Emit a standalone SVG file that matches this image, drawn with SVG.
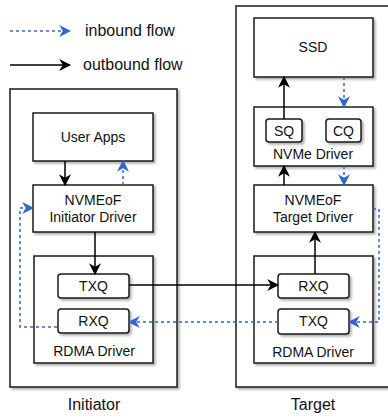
<svg xmlns="http://www.w3.org/2000/svg" width="388" height="418" viewBox="0 0 388 418">
<defs>
<filter id="sh" x="-10%" y="-10%" width="130%" height="130%">
<feDropShadow dx="2" dy="2" stdDeviation="1" flood-color="#000" flood-opacity="0.3"/>
</filter>
<marker id="ab" markerUnits="userSpaceOnUse" markerWidth="12" markerHeight="12" viewBox="0 0 10 10" refX="9" refY="5" orient="auto">
<path d="M0,0 L10,5 L0,10 L3,5 z" fill="#000"/>
</marker>
<marker id="au" markerUnits="userSpaceOnUse" markerWidth="12" markerHeight="12" viewBox="0 0 10 10" refX="9" refY="5" orient="auto">
<path d="M0,0 L10,5 L0,10 L3,5 z" fill="#3366cc"/>
</marker>
<style>
.box{fill:#fff;stroke:#1a1a1a;stroke-width:1.5;filter:url(#sh)}
.q{fill:#fff;stroke:#1a1a1a;stroke-width:1.5;filter:url(#sh)}
.t{font-family:"Liberation Sans",Arial,sans-serif;font-size:14px;fill:#111;text-anchor:middle}
.big{font-size:16px}
.out{fill:none;stroke:#000;stroke-width:1.5;marker-end:url(#ab)}
.in{fill:none;stroke:#3366cc;stroke-width:1.5;stroke-dasharray:3 3;marker-end:url(#au)}
</style>
</defs>
<rect width="388" height="418" fill="#fff"/>

<g id="legend">
<path class="in" d="M10,31 H70"/>
<text class="t big" x="85" y="36" style="text-anchor:start">inbound flow</text>
<path class="out" d="M10,65 H70"/>
<text class="t big" x="83" y="70" style="text-anchor:start">outbound flow</text>
</g>

<g id="initiator">
<rect class="box" x="10" y="89" width="167" height="298"/>
<text class="t big" x="94" y="410">Initiator</text>
</g>
<g id="target">
<rect class="box" x="236" y="6" width="160" height="381"/>
<text class="t big" x="313" y="410">Target</text>
</g>

<g id="user-apps">
<rect class="box" x="33" y="113" width="120" height="48"/>
<text class="t" x="93" y="142">User Apps</text>
</g>
<g id="nvmeof-initiator">
<rect class="box" x="33" y="185" width="120" height="47"/>
<text class="t" x="93" y="205">NVMEoF</text>
<text class="t" x="93" y="222">Initiator Driver</text>
</g>
<g id="rdma-initiator">
<rect class="box" x="34" y="256" width="119" height="107"/>
<text class="t" x="94" y="356">RDMA Driver</text>
</g>
<g id="txq-initiator">
<rect class="q" x="58" y="274" width="71" height="24" rx="3"/>
<text class="t" x="93.5" y="291">TXQ</text>
</g>
<g id="rxq-initiator">
<rect class="q" x="58" y="309" width="71" height="24" rx="3"/>
<text class="t" x="93.5" y="326">RXQ</text>
</g>

<g id="ssd">
<rect class="box" x="254" y="18" width="119" height="59"/>
<text class="t" x="313" y="52">SSD</text>
</g>
<g id="nvme-driver">
<rect class="box" x="254" y="107" width="119" height="59"/>
<text class="t" x="313" y="159">NVMe Driver</text>
</g>
<g id="sq">
<rect class="q" x="266" y="119" width="36" height="23" rx="3"/>
<text class="t" x="284" y="135.5">SQ</text>
</g>
<g id="cq">
<rect class="q" x="326" y="119" width="35" height="23" rx="3"/>
<text class="t" x="343.5" y="135.5">CQ</text>
</g>
<g id="nvmeof-target">
<rect class="box" x="254" y="185" width="119" height="47"/>
<text class="t" x="313" y="205">NVMEoF</text>
<text class="t" x="313" y="222">Target Driver</text>
</g>
<g id="rdma-target">
<rect class="box" x="254" y="256" width="119" height="107"/>
<text class="t" x="313" y="357">RDMA Driver</text>
</g>
<g id="rxq-target">
<rect class="q" x="278" y="274" width="71" height="24" rx="3"/>
<text class="t" x="313.5" y="291">RXQ</text>
</g>
<g id="txq-target">
<rect class="q" x="278" y="309" width="71" height="25" rx="3"/>
<text class="t" x="313.5" y="326">TXQ</text>
</g>

<g id="connectors">
<path class="out" d="M65,161 V185"/>
<path class="in" d="M123,185 V161"/>
<path class="out" d="M95,232 V274"/>
<path class="out" d="M129,285 H278"/>
<path class="out" d="M315,274 V232"/>
<path class="out" d="M284,185 V166"/>
<path class="out" d="M284,119 V77"/>
<path class="in" d="M344,77 V107"/>
<path class="in" d="M344,166 V185"/>
<path class="in" d="M373,209 H379 V322 H349"/>
<path class="in" d="M278,322 H129"/>
<path class="in" d="M57,327 H20 V208 H33"/>
</g>
</svg>
